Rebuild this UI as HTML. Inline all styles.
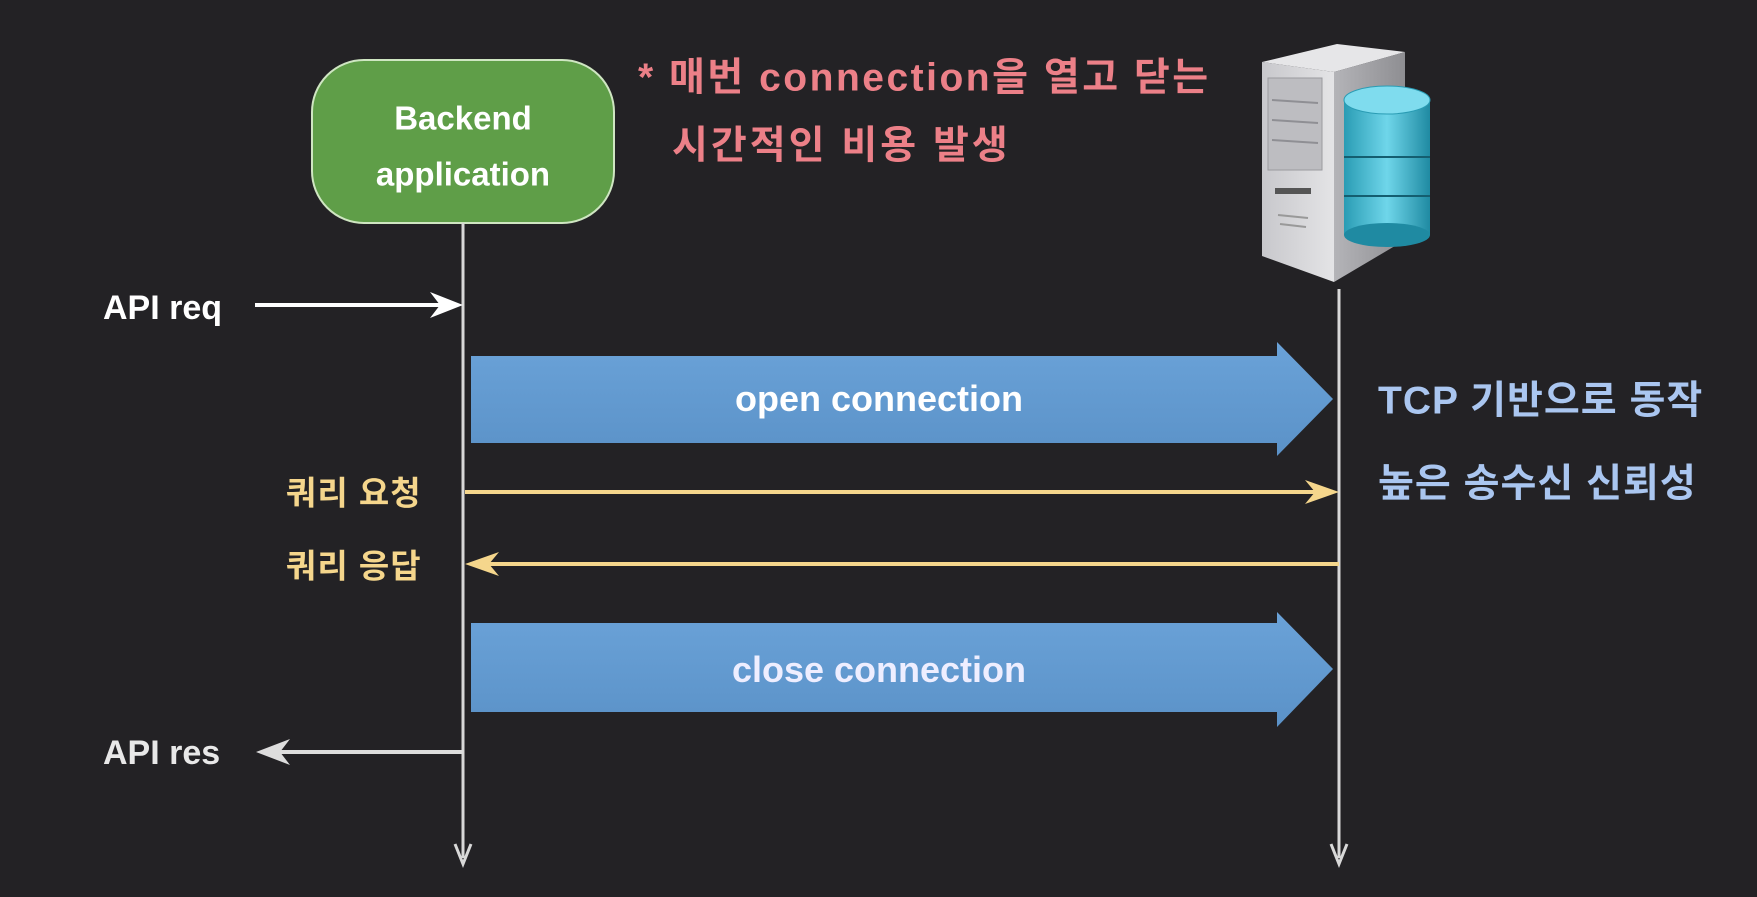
<!DOCTYPE html>
<html><head><meta charset="utf-8"><style>
html,body{margin:0;padding:0;background:#232225;}
body{width:1757px;height:897px;overflow:hidden;position:relative;font-family:"Liberation Sans","Noto Sans CJK KR",sans-serif;}
.t{position:absolute;white-space:nowrap;line-height:1;font-weight:bold;transform:translateY(-50%);}
</style></head><body>
<svg width="1757" height="897" style="position:absolute;left:0;top:0">
<defs>
<linearGradient id="blu" x1="0" y1="0" x2="0" y2="1"><stop offset="0" stop-color="#6aa2d8"/><stop offset="1" stop-color="#5b92c8"/></linearGradient>
<linearGradient id="srvf" x1="0" y1="0" x2="1" y2="0"><stop offset="0" stop-color="#c8c8cc"/><stop offset="1" stop-color="#e4e4e6"/></linearGradient>
<linearGradient id="srvs" x1="0" y1="0" x2="1" y2="0"><stop offset="0" stop-color="#b4b4b8"/><stop offset="1" stop-color="#8e8e92"/></linearGradient>
<linearGradient id="db" x1="0" y1="0" x2="1" y2="0"><stop offset="0" stop-color="#2a9cb4"/><stop offset="0.5" stop-color="#6fd6ea"/><stop offset="1" stop-color="#1f8aa2"/></linearGradient>
</defs>
<rect x="312" y="60" width="302" height="163" rx="52" fill="#5f9e48" stroke="#cfe6c2" stroke-width="2"/>
<line x1="463" y1="223" x2="463" y2="858" stroke="#d8d8d8" stroke-width="3"/>
<polyline points="455,844 463,864 471,844" fill="none" stroke="#d8d8d8" stroke-width="3"/>
<line x1="1339" y1="289" x2="1339" y2="858" stroke="#d8d8d8" stroke-width="3"/>
<polyline points="1331,844 1339,864 1347,844" fill="none" stroke="#d8d8d8" stroke-width="3"/>
<polygon points="1262,62 1337,44 1405,52 1334,72" fill="#e6e6e8"/>
<polygon points="1262,62 1334,72 1334,282 1262,256" fill="url(#srvf)"/>
<polygon points="1334,72 1405,52 1405,240 1334,282" fill="url(#srvs)"/>
<rect x="1268" y="78" width="54" height="92" fill="#bdbdc1" stroke="#9a9a9e"/>
<line x1="1272" y1="100" x2="1318" y2="103" stroke="#8f8f94" stroke-width="2"/>
<line x1="1272" y1="120" x2="1318" y2="123" stroke="#8f8f94" stroke-width="2"/>
<line x1="1272" y1="140" x2="1318" y2="143" stroke="#8f8f94" stroke-width="2"/>
<rect x="1275" y="188" width="36" height="6" fill="#555"/>
<line x1="1278" y1="215" x2="1308" y2="218" stroke="#999" stroke-width="2"/>
<line x1="1280" y1="224" x2="1306" y2="227" stroke="#999" stroke-width="2"/>
<rect x="1344" y="100" width="86" height="135" fill="url(#db)"/>
<ellipse cx="1387" cy="235" rx="43" ry="12" fill="#1f8aa2"/>
<line x1="1344" y1="157" x2="1430" y2="157" stroke="#145e70" stroke-width="2"/>
<line x1="1344" y1="196" x2="1430" y2="196" stroke="#145e70" stroke-width="2"/>
<ellipse cx="1387" cy="100" rx="43" ry="14" fill="#7fdcee" stroke="#2a9cb4"/>
<line x1="255" y1="305" x2="455" y2="305" stroke="#fff" stroke-width="4"/>
<polygon points="463,305 430,292 440,305 430,318" fill="#fff"/>
<polygon points="471,356 1277,356 1277,342 1333,399 1277,456 1277,443 471,443" fill="url(#blu)"/>
<line x1="465" y1="492" x2="1330" y2="492" stroke="#f5d68c" stroke-width="4"/>
<polygon points="1339,492 1305,480 1315,492 1305,504" fill="#f5d68c"/>
<line x1="472" y1="564" x2="1339" y2="564" stroke="#f5d68c" stroke-width="4"/>
<polygon points="465,564 499,552 489,564 499,576" fill="#f5d68c"/>
<polygon points="471,623 1277,623 1277,612 1333,669 1277,727 1277,712 471,712" fill="url(#blu)"/>
<line x1="265" y1="752" x2="463" y2="752" stroke="#ddd" stroke-width="4"/>
<polygon points="256,752 290,739 280,752 290,765" fill="#ddd"/>
</svg>
<div class="t" style="left:312px;width:302px;text-align:center;top:118px;font-size:33px;color:#fff">Backend</div>
<div class="t" style="left:312px;width:302px;text-align:center;top:174px;font-size:33px;color:#fff">application</div>
<div class="t" style="left:638px;top:78px;font-size:39px;letter-spacing:2.5px;color:#ec8088">* 매번 connection을 열고 닫는</div>
<div class="t" style="left:672px;top:146px;font-size:39px;letter-spacing:3px;color:#ec8088">시간적인 비용 발생</div>
<div class="t" style="left:103px;top:308px;font-size:34px;color:#fff">API req</div>
<div class="t" style="left:103px;top:753px;font-size:34px;color:#e8e8e8">API res</div>
<div class="t" style="left:286px;top:493px;font-size:33px;letter-spacing:1px;color:#f5d68c">쿼리 요청</div>
<div class="t" style="left:286px;top:566px;font-size:33px;letter-spacing:1px;color:#f5d68c">쿼리 응답</div>
<div class="t" style="left:471px;width:816px;text-align:center;top:399px;font-size:36px;color:#fff">open connection</div>
<div class="t" style="left:471px;width:816px;text-align:center;top:670px;font-size:36px;color:#eef">close connection</div>
<div class="t" style="left:1378px;top:401px;font-size:39px;letter-spacing:1px;color:#aac6f0">TCP 기반으로 동작</div>
<div class="t" style="left:1378px;top:484px;font-size:39px;letter-spacing:1px;color:#aac6f0">높은 송수신 신뢰성</div>
</body></html>
